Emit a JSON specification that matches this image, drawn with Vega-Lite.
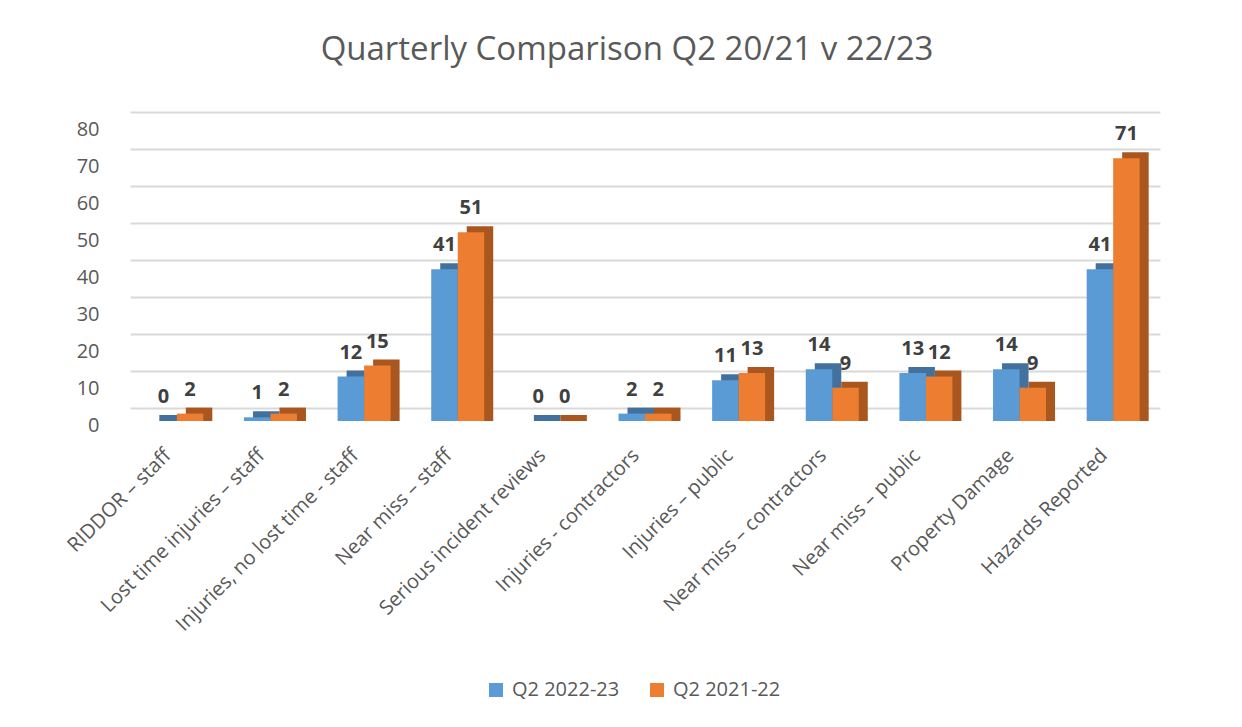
{
  "$schema": "https://vega.github.io/schema/vega-lite/v6.json",
  "width": 1030,
  "height": 296,
  "autosize": {"type": "none"},
  "padding": {"left": 130, "top": 125, "right": 82, "bottom": 306},
  "background": "white",
  "config": {"view": {"stroke": null}, "font": "Open Sans"},
  "title": {
    "text": "Quarterly Comparison Q2 20/21 v 22/23",
    "fontSize": 33,
    "fontWeight": "normal",
    "color": "#595959",
    "font": "Open Sans",
    "anchor": "middle",
    "offset": 26,
    "baseline": "alphabetic",
    "dx": -18
  },
  "data": {
    "values": [
      {"cat": "RIDDOR – staff", "series": "Q2 2022-23", "value": 0},
      {"cat": "RIDDOR – staff", "series": "Q2 2021-22", "value": 2},
      {"cat": "Lost time injuries – staff", "series": "Q2 2022-23", "value": 1},
      {"cat": "Lost time injuries – staff", "series": "Q2 2021-22", "value": 2},
      {"cat": "Injuries, no lost time - staff", "series": "Q2 2022-23", "value": 12},
      {"cat": "Injuries, no lost time - staff", "series": "Q2 2021-22", "value": 15},
      {"cat": "Near miss – staff", "series": "Q2 2022-23", "value": 41},
      {"cat": "Near miss – staff", "series": "Q2 2021-22", "value": 51},
      {"cat": "Serious incident reviews", "series": "Q2 2022-23", "value": 0},
      {"cat": "Serious incident reviews", "series": "Q2 2021-22", "value": 0},
      {"cat": "Injuries - contractors", "series": "Q2 2022-23", "value": 2},
      {"cat": "Injuries - contractors", "series": "Q2 2021-22", "value": 2},
      {"cat": "Injuries – public", "series": "Q2 2022-23", "value": 11},
      {"cat": "Injuries – public", "series": "Q2 2021-22", "value": 13},
      {"cat": "Near miss – contractors", "series": "Q2 2022-23", "value": 14},
      {"cat": "Near miss – contractors", "series": "Q2 2021-22", "value": 9},
      {"cat": "Near miss – public", "series": "Q2 2022-23", "value": 13},
      {"cat": "Near miss – public", "series": "Q2 2021-22", "value": 12},
      {"cat": "Property Damage", "series": "Q2 2022-23", "value": 14},
      {"cat": "Property Damage", "series": "Q2 2021-22", "value": 9},
      {"cat": "Hazards Reported", "series": "Q2 2022-23", "value": 41},
      {"cat": "Hazards Reported", "series": "Q2 2021-22", "value": 71}
    ]
  },
  "encoding": {
    "x": {
      "field": "cat",
      "type": "nominal",
      "sort": null,
      "title": null,
      "scale": {"paddingInner": 0.434, "paddingOuter": 0.217},
      "axis": {
        "domain": false,
        "ticks": false,
        "tickSize": 0,
        "labelAngle": -45,
        "labelFontSize": 20,
        "labelColor": "#595959",
        "labelFont": "Open Sans",
        "labelPadding": 24,
        "labelOffset": -16,
        "labelLimit": 400
      }
    },
    "y": {
      "field": "value",
      "type": "quantitative",
      "title": null,
      "scale": {"domain": [0, 80], "nice": false},
      "axis": {
        "values": [0, 10, 20, 30, 40, 50, 60, 70, 80],
        "domain": false,
        "ticks": false,
        "tickSize": 0,
        "grid": true,
        "gridColor": "#d9d9d9",
        "gridWidth": 2,
        "tickOffset": -13,
        "labelOffset": 17,
        "labelFontSize": 20,
        "labelColor": "#595959",
        "labelFont": "Open Sans",
        "labelPadding": 31
      }
    }
  },
  "layer": [
    {
      "mark": {"type": "bar", "yOffset": -6, "y2Offset": 0},
      "encoding": {
        "y2": {"datum": 0},
        "xOffset": {
          "field": "series",
          "type": "nominal",
          "scale": {"domain": ["Q2 2022-23", "Q2 2021-22"], "range": [9, 62]}
        },
        "fill": {
          "condition": {"test": "datum.series === 'Q2 2022-23'", "value": "#41719c"},
          "value": "#a9561f"
        }
      }
    },
    {
      "mark": {"type": "bar"},
      "encoding": {
        "xOffset": {
          "field": "series",
          "type": "nominal",
          "scale": {"domain": ["Q2 2022-23", "Q2 2021-22"]}
        },
        "color": {
          "field": "series",
          "type": "nominal",
          "scale": {"domain": ["Q2 2022-23", "Q2 2021-22"], "range": ["#5b9bd5", "#ed7d31"]},
          "legend": {
            "orient": "none",
            "legendX": 356,
            "legendY": 555,
            "direction": "horizontal",
            "title": null,
            "symbolType": "square",
            "symbolSize": 196,
            "symbolStrokeWidth": 0,
            "labelFontSize": 20,
            "labelColor": "#595959",
            "labelFont": "Open Sans",
            "columnPadding": 27,
            "labelOffset": 6
          }
        }
      }
    },
    {
      "mark": {
        "type": "text",
        "dy": -18,
        "baseline": "alphabetic",
        "fontSize": 20,
        "fontWeight": "bold",
        "color": "#404040",
        "font": "Open Sans"
      },
      "encoding": {
        "xOffset": {
          "field": "series",
          "type": "nominal",
          "scale": {"domain": ["Q2 2022-23", "Q2 2021-22"]}
        },
        "text": {"field": "value", "type": "quantitative"}
      }
    }
  ],
  "resolve": {"scale": {"xOffset": "independent"}}
}
